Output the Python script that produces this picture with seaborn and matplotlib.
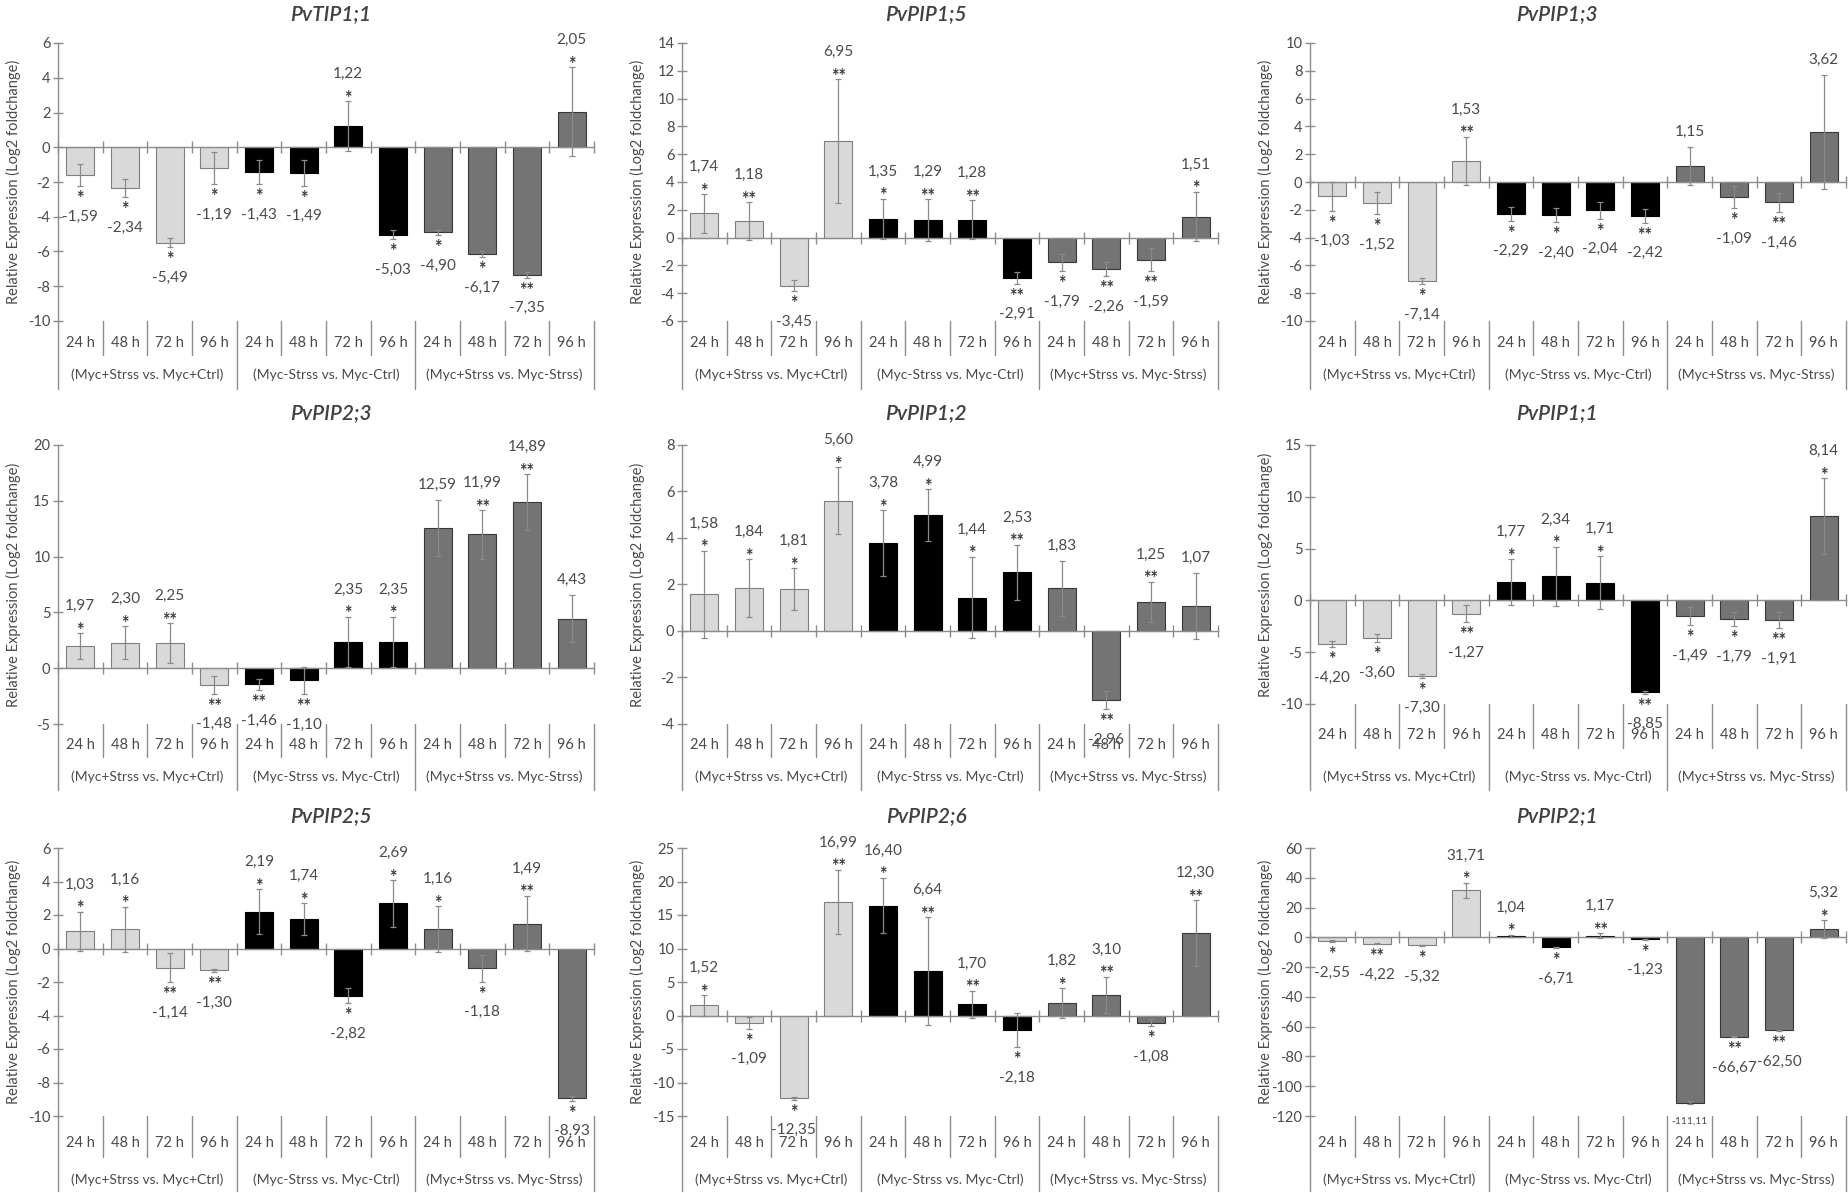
import numpy as np
import pandas as pd
import matplotlib
matplotlib.use("Agg")
import matplotlib.pyplot as plt
import matplotlib.transforms as mtransforms
import seaborn as sns

# ---------------- data ----------------
time_labels = ["24 h", "48 h", "72 h", "96 h"]
group_labels = ["(Myc+Strss vs. Myc+Ctrl)", "(Myc-Strss vs. Myc-Ctrl)", "(Myc+Strss vs. Myc-Strss)"]
genes = ["PvTIP1;1", "PvPIP1;5", "PvPIP1;3",
         "PvPIP2;3", "PvPIP1;2", "PvPIP1;1",
         "PvPIP2;5", "PvPIP2;6", "PvPIP2;1"]

tip11_values = [-1.59, -2.34, -5.49, -1.19, -1.43, -1.49, 1.22, -5.03, -4.90, -6.17, -7.35, 2.05]
tip11_errors = [0.64, 0.54, 0.25, 0.94, 0.71, 0.73, 1.45, 0.27, 0.15, 0.17, 0.15, 2.58]
tip11_stars = ["*", "*", "*", "*", "*", "*", "*", "*", "*", "*", "**", "*"]

pip15_values = [1.74, 1.18, -3.45, 6.95, 1.35, 1.29, 1.28, -2.91, -1.79, -2.26, -1.59, 1.51]
pip15_errors = [1.39, 1.35, 0.42, 4.47, 1.45, 1.50, 1.40, 0.41, 0.62, 0.52, 0.83, 1.79]
pip15_stars = ["*", "**", "*", "**", "*", "**", "**", "**", "*", "**", "**", "*"]

pip13_values = [-1.03, -1.52, -7.14, 1.53, -2.29, -2.40, -2.04, -2.42, 1.15, -1.09, -1.46, 3.62]
pip13_errors = [1.03, 0.80, 0.20, 1.74, 0.50, 0.50, 0.60, 0.50, 1.35, 0.80, 0.70, 4.10]
pip13_stars = ["*", "*", "*", "**", "*", "*", "*", "**", "", "*", "**", ""]

pip23_values = [1.97, 2.30, 2.25, -1.48, -1.46, -1.10, 2.35, 2.35, 12.59, 11.99, 14.89, 4.43]
pip23_errors = [1.16, 1.50, 1.78, 0.80, 0.50, 1.20, 2.28, 2.28, 2.50, 2.20, 2.50, 2.10]
pip23_stars = ["*", "*", "**", "**", "**", "**", "*", "*", "", "**", "**", ""]

pip12_values = [1.58, 1.84, 1.81, 5.60, 3.78, 4.99, 1.44, 2.53, 1.83, -2.96, 1.25, 1.07]
pip12_errors = [1.88, 1.24, 0.89, 1.44, 1.42, 1.11, 1.76, 1.18, 1.17, 0.40, 0.87, 1.41]
pip12_stars = ["*", "*", "*", "*", "*", "*", "*", "**", "", "**", "**", ""]

pip11_values = [-4.20, -3.60, -7.30, -1.27, 1.77, 2.34, 1.71, -8.85, -1.49, -1.79, -1.91, 8.14]
pip11_errors = [0.30, 0.40, 0.15, 0.82, 2.19, 2.84, 2.57, 0.15, 0.90, 0.70, 0.80, 3.64]
pip11_stars = ["*", "*", "*", "**", "*", "*", "*", "**", "*", "*", "**", "*"]

pip25_values = [1.03, 1.16, -1.14, -1.30, 2.19, 1.74, -2.82, 2.69, 1.16, -1.18, 1.49, -8.93]
pip25_errors = [1.17, 1.34, 0.86, 0.10, 1.34, 0.96, 0.46, 1.39, 1.38, 0.80, 1.66, 0.15]
pip25_stars = ["*", "*", "**", "**", "*", "*", "*", "*", "*", "*", "**", "*"]

pip26_values = [1.52, -1.09, -12.35, 16.99, 16.40, 6.64, 1.70, -2.18, 1.82, 3.10, -1.08, 12.30]
pip26_errors = [1.55, 0.90, 0.20, 4.80, 4.16, 8.00, 2.00, 2.50, 2.24, 2.70, 0.50, 4.90]
pip26_stars = ["*", "*", "*", "**", "*", "**", "**", "*", "*", "**", "*", "**"]

pip21_values = [-2.55, -4.22, -5.32, 31.71, 1.04, -6.71, 1.17, -1.23, -111.11, -66.67, -62.50, 5.32]
pip21_errors = [0.50, 0.50, 0.50, 5.00, 0.80, 0.50, 1.50, 0.30, 1.00, 0.50, 0.50, 6.10]
pip21_stars = ["*", "**", "*", "*", "*", "*", "**", "*", "", "**", "**", "*"]

all_values = [tip11_values, pip15_values, pip13_values, pip23_values, pip12_values,
              pip11_values, pip25_values, pip26_values, pip21_values]
all_errors = [tip11_errors, pip15_errors, pip13_errors, pip23_errors, pip12_errors,
              pip11_errors, pip25_errors, pip26_errors, pip21_errors]
all_stars = [tip11_stars, pip15_stars, pip13_stars, pip23_stars, pip12_stars,
             pip11_stars, pip25_stars, pip26_stars, pip21_stars]

# axis ranges (min, max, step)
axis_ranges = [(-10, 6, 2), (-6, 14, 2), (-10, 10, 2),
               (-5, 20, 5), (-4, 8, 2), (-10, 15, 5),
               (-10, 6, 2), (-15, 25, 5), (-120, 60, 20)]

# ---------------- style ----------------
sns.set_theme(style="white")
plt.rcParams["font.family"] = ["Lato", "DejaVu Sans"]
plt.rcParams["axes.unicode_minus"] = False

W, H = 1849, 1193
fig = plt.figure(figsize=(W / 100, H / 100), dpi=100)
fig.patch.set_facecolor("white")

text_col = "#4A4A4A"
axis_col = "#8C8C8C"
bar_colors = ["#D9D9D9", "#000000", "#747474"]
bar_edges = ["#7F7F7F", "#000000", "#383838"]

col_left = [58, 682, 1310]
col_width = 536
row_top = [43, 445, 848]
row_bottom = [321, 724, 1116]
cat_y = [343, 745, 1143]
minor_bot = [355, 757, 1157]
group_y = [375, 777, 1180]
major_bot = [389, 790, 1191]
title_x = [331, 926, 1557]
title_y = [14, 413, 816]

cats = [f"{g}|{t}" for g in group_labels for t in time_labels]
groups = [g for g in group_labels for _ in time_labels]

for i, gene in enumerate(genes):
    r, c = divmod(i, 3)
    top = row_top[r]
    bottom = row_bottom[r]
    cy = cat_y[r]
    mb = minor_bot[r]
    if gene == "PvPIP1;1":
        bottom = 704
        cy = 735
        mb = 748
    ax = fig.add_axes([col_left[c] / W, 1 - bottom / H, col_width / W, (bottom - top) / H])
    vals = all_values[i]
    errs = all_errors[i]
    stars = all_stars[i]
    df = pd.DataFrame({"cat": cats, "value": vals, "group": groups})
    for g in range(3):
        sub = df[df["group"] == group_labels[g]]
        sns.barplot(data=sub, x="cat", y="value", order=cats, color=bar_colors[g],
                    edgecolor=bar_edges[g], linewidth=0.8, width=0.62, saturation=1,
                    errorbar=None, ax=ax, zorder=2)
    xs = np.arange(len(cats))
    ax.errorbar(xs, vals, yerr=errs, fmt="none", ecolor="#8A8A8A", elinewidth=0.9,
                capsize=2.5, capthick=0.9, zorder=3)

    lo, hi, step = axis_ranges[i]
    ax.set_xlim(-0.5, len(cats) - 0.5)
    ax.set_ylim(lo, hi)
    ax.set_yticks(np.arange(lo, hi + step / 2, step))
    ax.set_yticklabels([f"{int(t)}" for t in np.arange(lo, hi + step / 2, step)])
    ax.set_xticks(np.arange(-0.5, len(cats), 1.0))
    ax.set_xticklabels([])
    ax.set_xlabel("")
    ax.set_ylabel("Relative Expression (Log2 foldchange)", fontsize=10.5, color=text_col)
    ax.yaxis.set_label_coords(-37 / col_width, 0.5)

    for s in ["top", "right"]:
        ax.spines[s].set_visible(False)
    ax.spines["bottom"].set_position(("data", 0))
    ax.spines["bottom"].set_color(axis_col)
    ax.spines["left"].set_color(axis_col)
    ax.spines["bottom"].set_linewidth(1.0)
    ax.spines["left"].set_linewidth(1.0)
    ax.tick_params(axis="x", direction="inout", length=8, width=1.0, color=axis_col, bottom=True)
    ax.tick_params(axis="y", direction="inout", length=7, width=1.0, color=axis_col, left=True,
                   labelsize=10.5, labelcolor=text_col, pad=2)
    ax.set_facecolor("none")
    ax.grid(False)

    # value labels and significance stars
    for x, v, e, st in zip(xs, vals, errs, stars):
        lab = f"{v:.2f}".replace(".", ",")
        fs = 11 if len(lab) <= 6 else 7.5
        sgn = 1 if v >= 0 else -1
        end = v + sgn * e
        if st:
            star_off = 2 if sgn > 0 else -9
            lab_off = 19.5 if sgn > 0 else -22
            ax.annotate(st, (x, end), xytext=(0, star_off), textcoords="offset points",
                        ha="center", va="center", fontsize=13, fontweight="bold",
                        color="#3A3A3A", annotation_clip=False, zorder=4)
        else:
            lab_off = 11 if sgn > 0 else -12
        ax.annotate(lab, (x, end), xytext=(0, lab_off), textcoords="offset points",
                    ha="center", va="center", fontsize=fs, color=text_col,
                    annotation_clip=False, zorder=4)

    # multi-level category axis below the plot
    trans = mtransforms.blended_transform_factory(ax.transData, fig.transFigure)
    for k in range(len(cats)):
        ax.text(k, 1 - cy / H, time_labels[k % 4], transform=trans, ha="center",
                va="center", fontsize=10.5, color=text_col)
    for gi, gl in enumerate(group_labels):
        ax.text(4 * gi + 1.5, 1 - group_y[r] / H, gl, transform=trans, ha="center",
                va="center", fontsize=10, color=text_col)
    for b in range(len(cats) + 1):
        xb = b - 0.5
        yb = major_bot[r] if b % 4 == 0 else mb
        ax.plot([xb, xb], [1 - bottom / H, 1 - yb / H], transform=trans, color=axis_col,
                lw=1.0, clip_on=False, zorder=1)

    fig.text(title_x[c] / W, 1 - title_y[r] / H, gene, ha="center", va="center",
             fontsize=15, fontstyle="italic", fontweight="semibold", color="#404040")

fig.savefig("out.png", dpi=100, facecolor="white")
